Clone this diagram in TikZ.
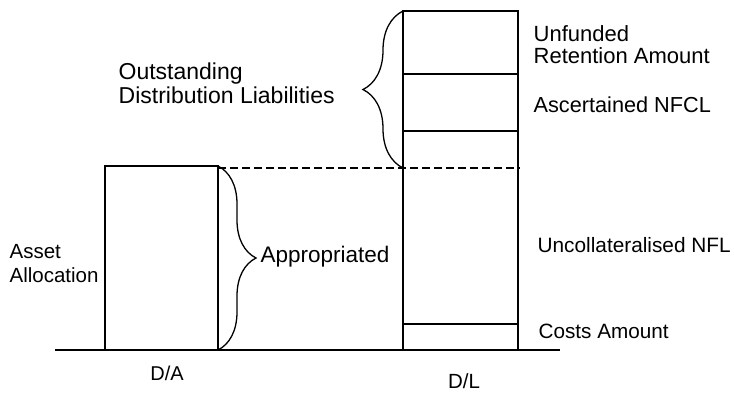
\documentclass[tikz,border=0pt]{standalone}
\usepackage{fontspec}
\setmainfont{Liberation Sans}
\usetikzlibrary{decorations.pathreplacing}
\begin{document}
\begin{tikzpicture}[x=1bp,y=-1bp,
  line width=1.3bp,
  lbl/.style={anchor=base west,inner sep=0pt,align=left,
    font=\fontsize{#1bp}{24bp}\selectfont},
  lbl/.default=21,
  split/.style={dashed,dash pattern=on 8bp off 4bp,line width=1.1bp},
  bracket/.style={decorate,decoration={brace,amplitude=#1},line width=1.3bp}]
\useasboundingbox (0,0) rectangle (734,392);

% ground line
\coordinate (g0) at (55,350);
\coordinate (g1) at (560,350);
\draw (g0) -- (g1);

% asset column
\coordinate (aTL) at (105,166);
\coordinate (aTR) at (218,166);
\coordinate (aBL) at (105,350);
\coordinate (aBR) at (218,350);
\draw (aBL) -- (aTL) -- (aTR) -- (aBR);

% liability column and its layers
\coordinate (lTL) at (403,11);
\coordinate (lTR) at (518,11);
\coordinate (lBL) at (403,350);
\coordinate (lBR) at (518,350);
\draw (lBL) -- (lTL) -- (lTR) -- (lBR);
\coordinate (l1a) at (403,74);  \coordinate (l1b) at (518,74);
\coordinate (l2a) at (403,131); \coordinate (l2b) at (518,131);
\coordinate (l3a) at (403,324); \coordinate (l3b) at (518,324);
\draw (l1a) -- (l1b);
\draw (l2a) -- (l2b);
\draw (l3a) -- (l3b);

% level of the asset column carried across
\coordinate (dA) at (218,168);
\coordinate (dB) at (403,168);
\coordinate (dC) at (520,168);
\draw[split] (dA) -- (dC);

% braces
\draw[bracket=40bp] (dB) -- (lTL);
\draw[bracket=38bp] (aTR) -- (aBR);

% labels (base = baseline of the last line)
\node[lbl=23] (odl) at (118,103) {Outstanding\\Distribution Liabilities};
\node[lbl=20.5] (aa) at (9,282) {Asset\\Allocation};
\node[lbl=22.5] (app) at (260,262) {Appropriated};
\node[lbl=22,font=\fontsize{22bp}{22bp}\selectfont] (ura) at (533,63) {Unfunded\\Retention Amount};
\node[lbl=21.7] (nfcl) at (533,112) {Ascertained NFCL};
\node[lbl=20.8] (nfl) at (537,252) {Uncollateralised NFL};
\node[lbl=20.7] (cost) at (538,338) {Costs Amount};
\node[lbl=20,anchor=base] (da) at (167,380) {D/A};
\node[lbl=20.5,anchor=base] (dl) at (464,388) {D/L};
\end{tikzpicture}
\end{document}
